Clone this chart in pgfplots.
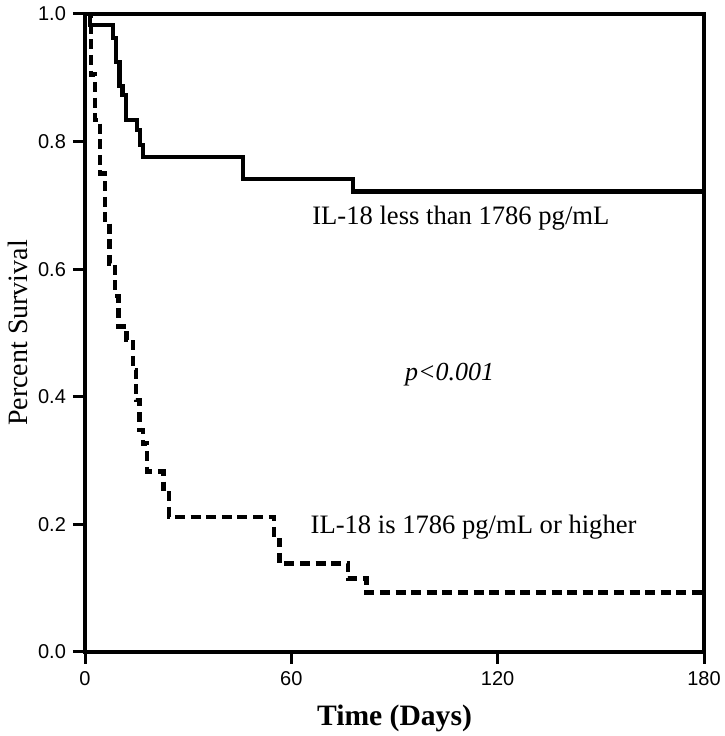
\documentclass[border=0pt]{standalone}
\usepackage{fontspec}
\setmainfont{Liberation Serif}
\setsansfont{Liberation Sans}
\usepackage{pgfplots}
\pgfplotsset{compat=1.18}
\begin{document}
\begin{tikzpicture}
\begin{axis}[name=ax, scale only axis, width=309.5pt, height=319pt,
  xmin=0, xmax=180, ymin=0, ymax=1,
  xtick={0,60,120,180}, ytick={0,0.2,0.4,0.6,0.8,1.0},
  yticklabel style={/pgf/number format/fixed,/pgf/number format/fixed zerofill,/pgf/number format/precision=1},
  /pgf/number format/assume math mode=true,
  ticklabel style={font=\sffamily\fontsize{10}{12}\selectfont},
  tick style={line width=1.5pt, black}, tick align=outside, major tick length=6pt,
  xtick pos=bottom, ytick pos=left,
  axis line style={line width=2pt},
  clip=false]
\addplot[const plot, line width=2.2pt, black] coordinates {
 (0,1) (1.5,0.983) (8.2,0.962) (9.0,0.925) (10.0,0.887) (10.9,0.873) (11.9,0.834)
 (15.2,0.818) (16.0,0.795) (16.8,0.776) (46,0.741) (78,0.722) (180,0.722)};
\addplot[const plot, line width=2.2pt, black, dash pattern=on 5pt off 2.8pt] coordinates {
 (0,1) (1.7,0.905) (2.9,0.834) (4.4,0.75) (5.8,0.677) (7.1,0.609) (8.7,0.558) (9.7,0.51)
 (12.1,0.489) (14,0.442) (14.8,0.395) (15.8,0.348) (16.8,0.327) (18.1,0.283) (22.8,0.256)
 (24.5,0.212) (55,0.176) (56.5,0.139) (76.5,0.115) (81.9,0.093) (180,0.093)};
\node[anchor=west, inner sep=0pt, font=\fontsize{13.3}{15}\selectfont] at (axis cs:66,0.68) {IL-18 less than 1786 pg/mL};
\node[anchor=west, inner sep=0pt, font=\fontsize{13.3}{15}\selectfont] at (axis cs:65.5,0.196) {IL-18 is 1786 pg/mL or higher};
\node[font=\itshape\fontsize{13}{15}\selectfont] at (axis cs:106,0.434) {p<0.001};
\end{axis}
\node[font=\bfseries\fontsize{14.8}{17}\selectfont] at ([yshift=-33pt]ax.south) {Time (Days)};
\node[rotate=90, font=\fontsize{14}{16}\selectfont] at ([xshift=-33.5pt]ax.west) {Percent Survival};
\pgfresetboundingbox
\path[use as bounding box] ([xshift=-42.5pt,yshift=-42pt]ax.south west) rectangle ([xshift=10pt,yshift=7pt]ax.north east);
\end{tikzpicture}
\end{document}
